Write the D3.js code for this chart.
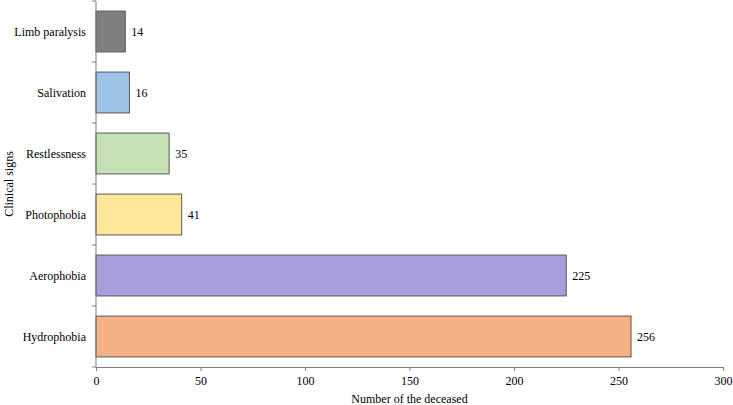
<!DOCTYPE html>
<html>
<head>
<meta charset="utf-8">
<script src="https://cdn.jsdelivr.net/npm/d3@7"></script>
<style>
  body { margin: 0; background: #fff; }
  svg text { font-family: "Liberation Serif", "Times New Roman", serif !important; fill: #000; }
</style>
</head>
<body>
<svg id="chart" width="733" height="405"></svg>
<script>
// data
const signs = ['Limb paralysis', 'Salivation', 'Restlessness', 'Photophobia', 'Aerophobia', 'Hydrophobia'];
const deceased = [14, 16, 35, 41, 225, 256];
const barColors = ['#7f7f7f', '#9dc3e6', '#c5e0b4', '#ffe699', '#a99ddb', '#f4b183'];
const xTicks = [0, 50, 100, 150, 200, 250, 300];

const svg = d3.select('#chart');
const margin = { top: 1, right: 10, bottom: 38, left: 96 };
const width = 733, height = 405;
const serif = '"Liberation Serif", "Times New Roman", serif';

const x = d3.scaleLinear()
    .domain([0, 300])
    .range([margin.left, width - margin.right]);

const y = d3.scaleBand()
    .domain(signs)
    .range([margin.top, height - margin.bottom])
    .paddingInner(0.33)
    .paddingOuter(0.165);

const rows = signs.map((s, i) => ({ sign: s, n: deceased[i], color: barColors[i] }));

// bars
svg.append('g').selectAll('rect')
    .data(rows)
    .join('rect')
    .attr('x', x(0))
    .attr('y', d => y(d.sign))
    .attr('width', d => x(d.n) - x(0))
    .attr('height', y.bandwidth())
    .attr('fill', d => d.color)
    .attr('stroke', '#595959')
    .attr('stroke-width', 1);

// value labels
svg.append('g').selectAll('text')
    .data(rows)
    .join('text')
    .attr('x', d => x(d.n) + 6)
    .attr('y', d => y(d.sign) + y.bandwidth() / 2)
    .attr('dy', '0.35em')
    .attr('font-family', serif)
    .style('font-size', '12px')
    .text(d => d.n);

// x axis
const xAxis = svg.append('g')
    .attr('transform', `translate(0,${height - margin.bottom})`)
    .call(d3.axisBottom(x).tickValues(xTicks).tickSize(4).tickSizeOuter(0))
    .attr('font-family', serif);
xAxis.select('.domain').attr('stroke', '#7f7f7f');
xAxis.selectAll('.tick line').attr('stroke', '#7f7f7f');
xAxis.selectAll('.tick text')
    .style('font-size', '12px')
    .attr('y', 9);

// y axis: tick marks at band boundaries, labels at band centres
const yAxisG = svg.append('g').attr('font-family', serif);
yAxisG.append('line')
    .attr('x1', x(0)).attr('x2', x(0))
    .attr('y1', margin.top).attr('y2', height - margin.bottom)
    .attr('stroke', '#7f7f7f');
const bounds = d3.range(signs.length + 1).map(i => margin.top + i * (height - margin.top - margin.bottom) / signs.length);
yAxisG.selectAll('line.bt')
    .data(bounds)
    .join('line')
    .attr('class', 'bt')
    .attr('x1', x(0) - 4).attr('x2', x(0))
    .attr('y1', d => d).attr('y2', d => d)
    .attr('stroke', '#7f7f7f');
yAxisG.selectAll('text')
    .data(signs)
    .join('text')
    .attr('x', x(0) - 10)
    .attr('y', d => y(d) + y.bandwidth() / 2)
    .attr('dy', '0.35em')
    .attr('text-anchor', 'end')
    .style('font-size', '12px')
    .text(d => d);

// axis titles
svg.append('text')
    .attr('x', (x(0) + x(300)) / 2)
    .attr('y', 403)
    .attr('text-anchor', 'middle')
    .attr('font-family', serif)
    .style('font-size', '12px')
    .text('Number of the deceased');

svg.append('text')
    .attr('transform', `translate(13,${(margin.top + height - margin.bottom) / 2}) rotate(-90)`)
    .attr('text-anchor', 'middle')
    .attr('font-family', serif)
    .style('font-size', '12px')
    .text('Clinical signs');
</script>
</body>
</html>
